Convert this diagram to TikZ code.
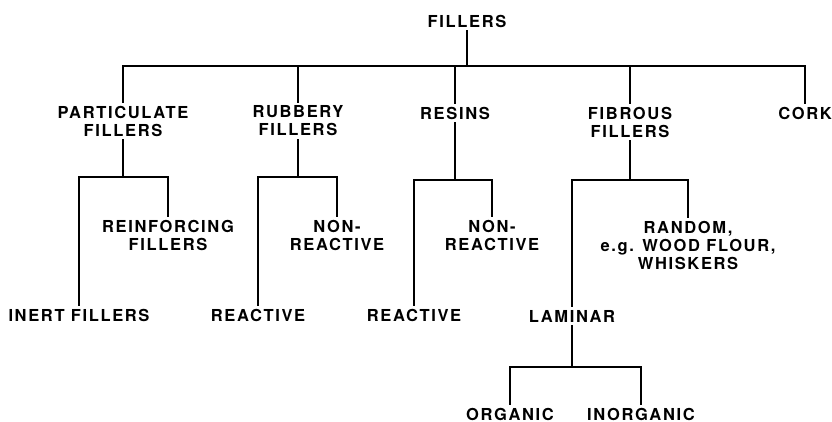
\documentclass[tikz,border=0pt]{standalone}
\usepackage{fontspec}
\setmainfont{TeX Gyre Heros}[LetterSpace=10]
\usepackage{tikz}
\usetikzlibrary{positioning}
\tikzstyle{term} = [align=center, inner sep=3pt, font=\fontsize{16.5}{18}\selectfont\bfseries]
\tikzstyle{link} = [line width=1.7pt, color=black]

\begin{document}
\begin{tikzpicture}[x=1pt, y=-1pt]
    \useasboundingbox (0,0) rectangle (832,422);
    % Nodes
    \node (fillers) [term] at (467,21) {FILLERS};
    \node (partic) [term] at (123,121) {PARTICULATE\\FILLERS};
    \node (rubbery) [term] at (298,121) {RUBBERY\\FILLERS};
    \node (resins) [term] at (455,113) {RESINS};
    \node (fibrous) [term] at (630,122) {FIBROUS\\FILLERS};
    \node (cork) [term] at (805,113) {CORK};
    \node (reinf) [term] at (168,235) {REINFORCING\\FILLERS};
    \node (inert) [term] at (79,315) {INERT FILLERS};
    \node (nonreacA) [term] at (337,235) {NON-\\REACTIVE};
    \node (reacA) [term] at (258,315) {REACTIVE};
    \node (nonreacB) [term] at (492,235) {NON-\\REACTIVE};
    \node (reacB) [term] at (414,315) {REACTIVE};
    \node (random) [term] at (688,245) {RANDOM,\\e.g. WOOD FLOUR,\\WHISKERS};
    \node (laminar) [term] at (572,316) {LAMINAR};
    \node (organic) [term] at (510,414) {ORGANIC};
    \node (inorganic) [term] at (641,414) {INORGANIC};

    % Bar levels
    \coordinate (mainbar) at (0,66);
    \coordinate (subbar) at (0,177);
    \coordinate (subbarB) at (0,180);
    \coordinate (lambar) at (0,367);

    % Branches
    \draw [link] (fillers.south) -- (fillers.south |- mainbar) coordinate (top);
    \draw [link] (partic.north) |- (top) -| (cork.north);
    \draw [link] (rubbery.north) -- (rubbery.north |- mainbar);
    \draw [link] (resins.north) -- (resins.north |- mainbar);
    \draw [link] (fibrous.north) -- (fibrous.north |- mainbar);

    \draw [link] (partic.south) -- (partic.south |- subbar) coordinate (pj);
    \draw [link] (inert.north) |- (pj) -| (reinf.north);
    \draw [link] (rubbery.south) -- (rubbery.south |- subbar) coordinate (rj);
    \draw [link] (reacA.north) |- (rj) -| (nonreacA.north);
    \draw [link] (resins.south) -- (resins.south |- subbarB) coordinate (sj);
    \draw [link] (reacB.north) |- (sj) -| (nonreacB.north);
    \draw [link] (fibrous.south) -- (fibrous.south |- subbarB) coordinate (fj);
    \draw [link] (laminar.north) |- (fj) -| (random.north);

    \draw [link] (laminar.south) -- (laminar.south |- lambar) coordinate (lj);
    \draw [link] (organic.north) |- (lj) -| (inorganic.north);
\end{tikzpicture}
\end{document}
